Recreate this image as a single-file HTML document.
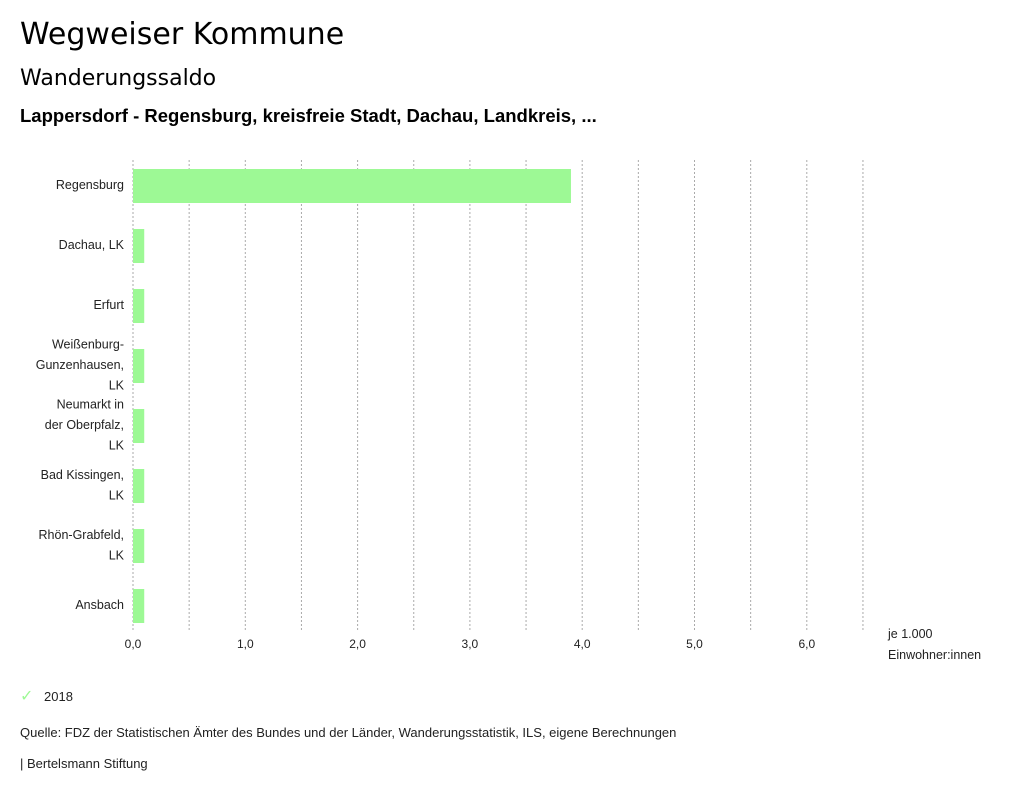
<!DOCTYPE html>
<html><head><meta charset="utf-8">
<style>
body{margin:0;background:#fff;font-family:"Liberation Sans","DejaVu Sans",sans-serif;color:#000;}
#wrap{position:relative;width:1024px;height:797px;overflow:hidden;}
.t{position:absolute;white-space:nowrap;}
</style></head>
<body>
<div id="wrap">
<div class="t" style="left:20px;top:17px;font-size:30px;font-family:'DejaVu Sans',sans-serif;">Wegweiser Kommune</div>
<div class="t" style="left:20px;top:66px;font-size:22px;font-family:'DejaVu Sans',sans-serif;">Wanderungssaldo</div>
<div class="t" style="left:20px;top:105px;font-size:18.5px;font-weight:bold;">Lappersdorf - Regensburg, kreisfreie Stadt, Dachau, Landkreis, ...</div>
<svg id="chart" width="1024" height="680" style="position:absolute;left:0;top:0;"></svg>
<div class="t" style="left:20px;top:686px;font-size:13px;color:#222;"><span style="color:#9df995;display:inline-block;width:24px;font-size:16px;">✓</span>2018</div>
<div class="t" style="left:20px;top:725px;font-size:13px;color:#222;">Quelle: FDZ der Statistischen Ämter des Bundes und der Länder, Wanderungsstatistik, ILS, eigene Berechnungen</div>
<div class="t" style="left:20px;top:756px;font-size:13px;color:#222;">| Bertelsmann Stiftung</div>
</div>
<script>
const categories=[["Regensburg"],["Dachau, LK"],["Erfurt"],["Weißenburg-","Gunzenhausen,","LK"],["Neumarkt in","der Oberpfalz,","LK"],["Bad Kissingen,","LK"],["Rhön-Grabfeld,","LK"],["Ansbach"]];
const values2018=[3.9,0.1,0.1,0.1,0.1,0.1,0.1,0.1];
const tickValues=[0,1,2,3,4,5,6];
const tickLabels=["0,0","1,0","2,0","3,0","4,0","5,0","6,0"];
const gridMax=6.5;
const NS="http://www.w3.org/2000/svg";
const svg=document.getElementById('chart');
const x0=133,pxPerUnit=112.3,top0=160,bottom=632,step=60,firstCenter=186,barH=34;
const xs=v=>x0+v*pxPerUnit;
const yc=i=>firstCenter+i*step;
function mk(tag,attrs){const e=document.createElementNS(NS,tag);for(const k in attrs)e.setAttribute(k,attrs[k]);svg.appendChild(e);return e;}
for(let g=0;g<=gridMax+1e-9;g+=0.5){
  const l=mk('line',{x1:xs(g),x2:xs(g),y1:top0,y2:bottom,stroke:'#aaa','stroke-width':1,'stroke-dasharray':'2,2'});
  
  
}
tickValues.forEach((v,i)=>{
  const t=mk('text',{x:xs(v),y:648,'text-anchor':'middle','font-size':12,fill:'#222'});
  t.textContent=tickLabels[i];
  
  
});
categories.forEach((lines,i)=>{
  const r=mk('rect',{x:xs(0),y:yc(i)-barH/2,width:xs(values2018[i])-xs(0),height:barH,fill:'#9df995'});
  
  
  const n=lines.length;
  lines.forEach((s,j)=>{
    const t=mk('text',{x:124,y:yc(i)+3+(j-(n-1)/2)*20.5,'text-anchor':'end','font-size':12.5,fill:'#222'});
    t.textContent=s;
    
    
  });
});
[["je 1.000",638],["Einwohner:innen",659]].forEach(([s,y])=>{
  const t=mk('text',{x:888,y:y,'font-size':12.5,fill:'#222'});
  t.textContent=s;
  
  
});
</script>
</body></html>
